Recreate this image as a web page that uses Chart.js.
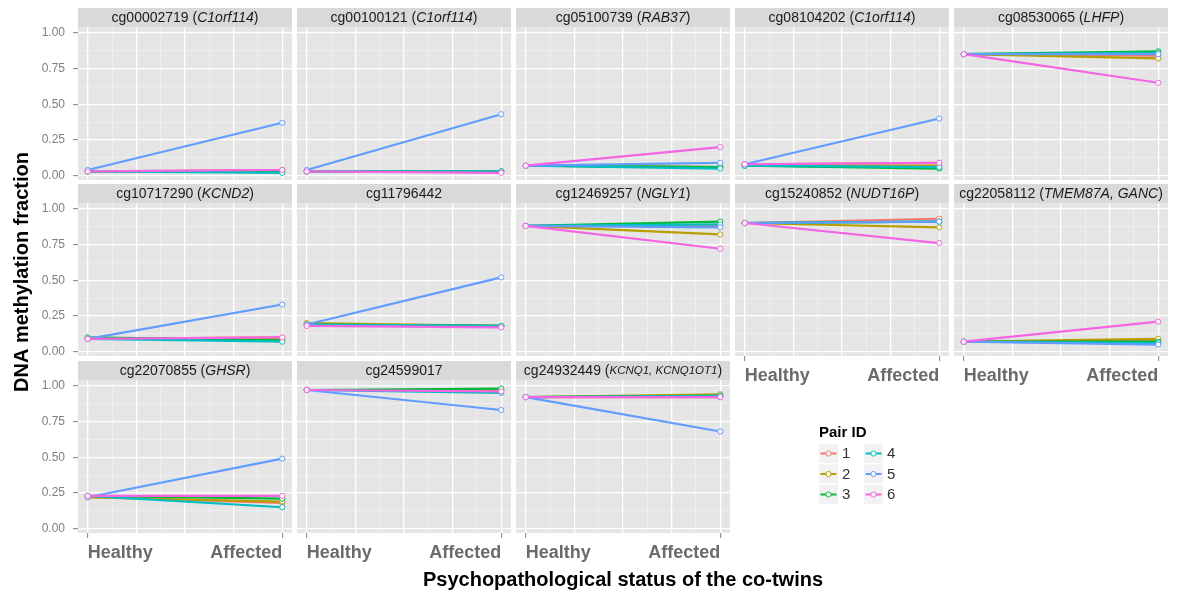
<!DOCTYPE html>
<html><head><meta charset="utf-8">
<script src="https://cdn.jsdelivr.net/npm/chart.js@4.4.1/dist/chart.umd.min.js"></script>
<style>
html,body{margin:0;padding:0;background:#fff;width:1178px;height:592px;overflow:hidden;}
canvas{position:absolute;}
</style></head><body>
<canvas id="frame" width="1178" height="592" style="left:0;top:0"></canvas>
<script>
// ---------------- DATA ----------------
const categories = ['Healthy', 'Affected'];
const pairIds = ['1', '2', '3', '4', '5', '6'];
const probes = ['cg00002719','cg00100121','cg05100739','cg08104202','cg08530065',
                'cg10717290','cg11796442','cg12469257','cg15240852','cg22058112',
                'cg22070855','cg24599017','cg24932449'];
const genes = ['C1orf114','C1orf114','RAB37','C1orf114','LHFP',
               'KCND2','','NGLY1','NUDT16P','TMEM87A, GANC',
               'GHSR','','KCNQ1, KCNQ1OT1'];
// methylation fraction of the healthy co-twin, pairs 1..6, one row per probe
const healthyValues = [
  [0.03,0.03,0.03,0.03,0.04,0.03],
  [0.03,0.03,0.03,0.03,0.04,0.03],
  [0.07,0.07,0.07,0.07,0.07,0.07],
  [0.08,0.07,0.07,0.07,0.08,0.08],
  [0.85,0.85,0.85,0.85,0.85,0.85],
  [0.09,0.09,0.10,0.09,0.09,0.09],
  [0.19,0.20,0.19,0.19,0.19,0.18],
  [0.88,0.88,0.88,0.88,0.88,0.88],
  [0.90,0.90,0.90,0.90,0.90,0.90],
  [0.07,0.07,0.07,0.07,0.07,0.07],
  [0.22,0.22,0.23,0.23,0.22,0.23],
  [0.97,0.97,0.97,0.97,0.97,0.97],
  [0.92,0.92,0.92,0.92,0.92,0.92]
];
// methylation fraction of the affected co-twin, pairs 1..6, one row per probe
const affectedValues = [
  [0.04,0.03,0.03,0.02,0.37,0.04],
  [0.03,0.03,0.03,0.03,0.43,0.02],
  [0.06,0.06,0.06,0.05,0.09,0.20],
  [0.09,0.07,0.05,0.06,0.40,0.09],
  [0.84,0.82,0.87,0.86,0.85,0.65],
  [0.10,0.09,0.08,0.07,0.33,0.10],
  [0.18,0.18,0.18,0.18,0.52,0.17],
  [0.88,0.82,0.91,0.89,0.87,0.72],
  [0.93,0.87,0.91,0.91,0.91,0.76],
  [0.08,0.09,0.07,0.06,0.05,0.21],
  [0.18,0.19,0.21,0.15,0.49,0.23],
  [0.97,0.97,0.98,0.95,0.83,0.96],
  [0.92,0.94,0.93,0.93,0.68,0.92]
];
const yTickValues = [0, 0.25, 0.5, 0.75, 1];
const yTickLabels = ['0.00', '0.25', '0.50', '0.75', '1.00'];
const xTitle = 'Psychopathological status of the co-twins';
const yTitle = 'DNA methylation fraction';
const legendTitle = 'Pair ID';

// ---------------- STYLE / LAYOUT ----------------
const pairColors = ['#F8766D','#B79F00','#00BA38','#00BFC4','#619CFF','#F564E3'];
const FONT = "'Liberation Sans', Arial, sans-serif";
Chart.defaults.font.family = FONT;
const PANEL_LEFTS = [78, 297, 516, 735, 954];
const PANEL_W = 214;
const STRIP_TOPS = [8, 184, 361];
const STRIP_H = 19, PANEL_H = 153;
const Y_AXIS_W = 50, X_AXIS_H = 40;

// gridline positions: majors at the tick values, minors halfway between
const gridValues = [];
yTickValues.forEach((v, i) => {
  gridValues.push(v);
  if (i < yTickValues.length - 1) gridValues.push((v + yTickValues[i + 1]) / 2);
});
const isMajor = v => yTickValues.some(t => Math.abs(t - v) < 1e-9);

const panelBg = {
  id: 'panelBg',
  beforeDraw(chart, args, opts) {
    const {ctx, chartArea: a} = chart;
    ctx.save();
    ctx.fillStyle = '#E5E5E5';
    ctx.fillRect(a.left, a.top, a.right - a.left, a.bottom - a.top);
    ctx.fillStyle = '#D9D9D9';
    ctx.fillRect(a.left, a.top - STRIP_H, a.right - a.left, STRIP_H);
    // strip label, gene in italics
    const parts = [];
    if (opts.gene) {
      parts.push({t: opts.probe + ' (', f: '14px ' + FONT});
      parts.push({t: opts.gene, f: 'italic ' + (opts.gene.length > 13 ? '11.5px ' : '14px ') + FONT});
      parts.push({t: ')', f: '14px ' + FONT});
    } else {
      parts.push({t: opts.probe, f: '14px ' + FONT});
    }
    let total = 0;
    parts.forEach(p => { ctx.font = p.f; p.w = ctx.measureText(p.t).width; total += p.w; });
    let x = (a.left + a.right) / 2 - total / 2;
    const y = a.top - STRIP_H / 2 + 0.5;
    ctx.fillStyle = '#1A1A1A';
    ctx.textBaseline = 'middle';
    ctx.textAlign = 'left';
    parts.forEach(p => { ctx.font = p.f; ctx.fillText(p.t, x, y); x += p.w; });
    ctx.restore();
  }
};

probes.forEach((probe, i) => {
  const row = Math.floor(i / 5), col = i % 5;
  const isLeft = col === 0;
  const isBottom = row === 2 || (row === 1 && col >= 3);
  const cv = document.createElement('canvas');
  const w = PANEL_W + (isLeft ? Y_AXIS_W : 0);
  const h = STRIP_H + PANEL_H + (isBottom ? X_AXIS_H : 0);
  cv.width = w; cv.height = h;
  cv.style.left = (PANEL_LEFTS[col] - (isLeft ? Y_AXIS_W : 0)) + 'px';
  cv.style.top = STRIP_TOPS[row] + 'px';
  document.body.appendChild(cv);

  const datasets = pairIds.map((id, p) => ({
    label: id,
    data: categories.map((c, k) => ({x: k, y: (k === 0 ? healthyValues : affectedValues)[i][p]})),
    borderColor: pairColors[p],
    pointBorderColor: pairColors[p],
    pointBackgroundColor: '#FFFFFF',
    pointRadius: 2.6,
    pointBorderWidth: 1,
    borderWidth: 2.2,
    order: pairIds.length - 1 - p,
    clip: false
  }));

  new Chart(cv, {
    type: 'line',
    data: {datasets},
    plugins: [panelBg],
    options: {
      responsive: false,
      animation: false,
      events: [],
      layout: {autoPadding: false, padding: {top: STRIP_H, left: 0, right: 0, bottom: 0}},
      plugins: {legend: {display: false}, tooltip: {enabled: false},
                panelBg: {probe, gene: genes[i]}},
      scales: {
        x: {
          type: 'linear', min: -0.05, max: 1.05,
          border: {display: false},
          afterBuildTicks(s) { s.ticks = gridValues.map(v => ({value: v})); },
          afterFit(s) { s.height = isBottom ? X_AXIS_H : 0; s.paddingLeft = 0; s.paddingRight = 0; },
          grid: {
            color: c => (c.tick && isMajor(c.tick.value)) ? '#FFFFFF' : '#F2F2F2',
            lineWidth: c => (c.tick && isMajor(c.tick.value)) ? 1.3 : 0.7,
            drawTicks: isBottom, tickLength: 5, tickWidth: 1,
            tickColor: c => (c.tick && (c.tick.value === 0 || c.tick.value === 1)) ? '#7F7F7F' : 'rgba(0,0,0,0)'
          },
          ticks: {
            display: isBottom, autoSkip: false, maxRotation: 0, minRotation: 0,
            align: 'inner', padding: 4,
            color: '#6B6B6B', font: {size: 18, weight: 'bold', family: FONT},
            callback: v => v === 0 ? categories[0] : (v === 1 ? categories[1] : '')
          }
        },
        y: {
          type: 'linear', min: -0.03, max: 1.04,
          border: {display: false},
          afterBuildTicks(s) { s.ticks = gridValues.map(v => ({value: v})); },
          afterFit(s) { s.width = isLeft ? Y_AXIS_W : 0; s.paddingTop = 0; s.paddingBottom = 0; },
          grid: {
            color: c => (c.tick && isMajor(c.tick.value)) ? '#FFFFFF' : '#F2F2F2',
            lineWidth: c => (c.tick && isMajor(c.tick.value)) ? 1.3 : 0.7,
            drawTicks: isLeft, tickLength: 5, tickWidth: 1,
            tickColor: c => (c.tick && isMajor(c.tick.value)) ? '#7F7F7F' : 'rgba(0,0,0,0)'
          },
          ticks: {
            display: isLeft, autoSkip: false, padding: 8,
            color: '#7F7F7F', font: {size: 12, family: FONT},
            callback: v => { const k = yTickValues.findIndex(t => Math.abs(t - v) < 1e-9); return k >= 0 ? yTickLabels[k] : ''; }
          }
        }
      }
    }
  });
});

// frame: axis titles and legend
const framePlugin = {
  id: 'framePlugin',
  afterDraw(chart) {
    const ctx = chart.ctx;
    ctx.save();
    ctx.fillStyle = '#000';
    ctx.textAlign = 'center';
    ctx.textBaseline = 'middle';
    ctx.font = 'bold 20px ' + FONT;
    ctx.fillText(xTitle, 623, 580);
    ctx.save();
    ctx.translate(22, 272);
    ctx.rotate(-Math.PI / 2);
    ctx.fillText(yTitle, 0, 0);
    ctx.restore();
    // legend
    ctx.textAlign = 'left';
    ctx.font = 'bold 15px ' + FONT;
    ctx.fillText(legendTitle, 819, 433);
    chart.data.datasets.forEach((ds, i) => {
      const colI = Math.floor(i / 3), rowI = i % 3;
      const bx = 819 + colI * 45, by = 444 + rowI * 20.5;
      ctx.fillStyle = '#F2F2F2';
      ctx.fillRect(bx, by, 19, 19);
      ctx.strokeStyle = ds.borderColor;
      ctx.lineWidth = 2;
      ctx.beginPath(); ctx.moveTo(bx + 1.5, by + 9.5); ctx.lineTo(bx + 17.5, by + 9.5); ctx.stroke();
      ctx.fillStyle = '#FFFFFF';
      ctx.lineWidth = 1;
      ctx.beginPath(); ctx.arc(bx + 9.5, by + 9.5, 2.6, 0, Math.PI * 2); ctx.fill(); ctx.stroke();
      ctx.fillStyle = '#333333';
      ctx.font = '15px ' + FONT;
      ctx.fillText(ds.label, bx + 23, by + 10);
    });
    ctx.restore();
  }
};
new Chart(document.getElementById('frame'), {
  type: 'line',
  data: {datasets: pairIds.map((id, i) => ({label: id, data: [], borderColor: pairColors[i]}))},
  plugins: [framePlugin],
  options: {
    responsive: false, animation: false, events: [],
    plugins: {legend: {display: false}, tooltip: {enabled: false}},
    scales: {x: {display: false}, y: {display: false}}
  }
});
</script>
</body></html>
